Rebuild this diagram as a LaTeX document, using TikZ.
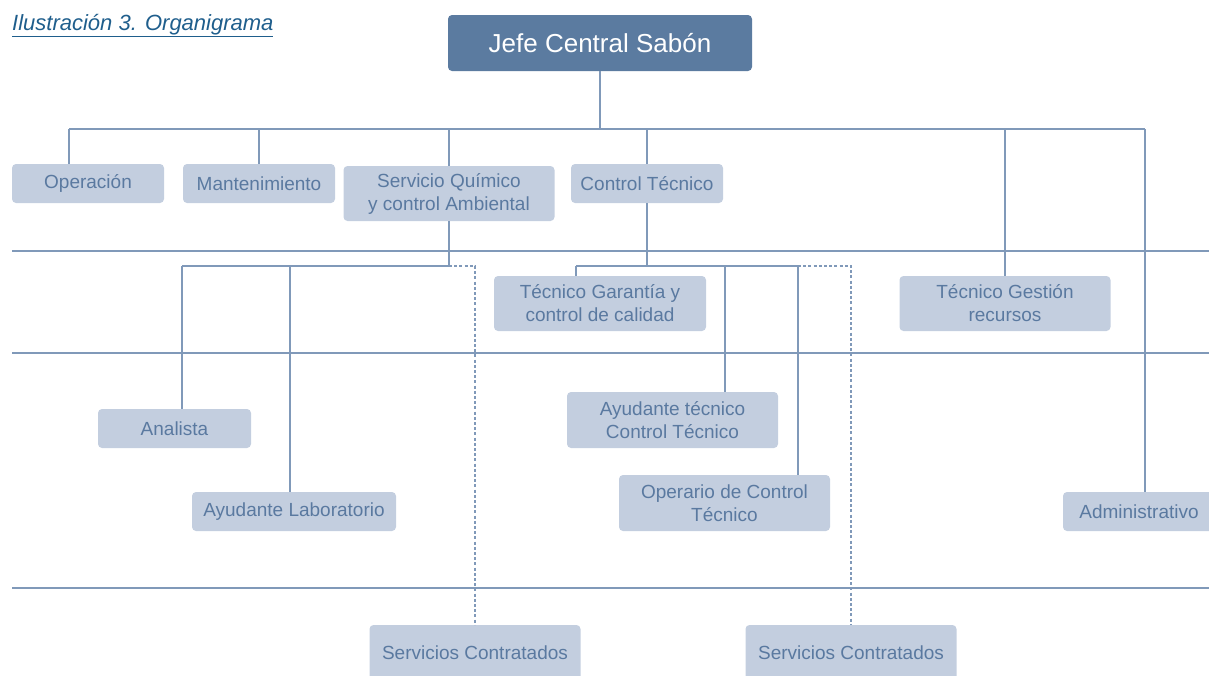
\documentclass[tikz,border=0pt]{standalone}
\usepackage{fontspec}
\setmainfont{Liberation Sans}
\definecolor{jefeblue}{HTML}{5B7BA0}
\definecolor{boxblue}{HTML}{C3CEDF}
\definecolor{txtblue}{HTML}{5A79A0}
\definecolor{lineblue}{HTML}{8099B9}
\definecolor{titleblue}{HTML}{1F5E8C}

\begin{document}
\begin{tikzpicture}[x=1pt,y=-1pt,
	puesto/.style={rectangle, rounded corners=4pt, fill=boxblue, text=txtblue, inner sep=0pt, align=center, font=\fontsize{19}{23}\selectfont},
	linea/.style={draw=lineblue, line width=1.2pt},
	externo/.style={draw=lineblue, line width=1.2pt, dash pattern=on 3pt off 2.2pt},
	nivel/.style={draw=lineblue, line width=1.4pt}]

	\useasboundingbox (0,0) rectangle (1209,675);

	\node 	(titulo)	at	(12,30) 	[anchor=base west, inner sep=0pt, text=titleblue, font=\fontsize{22}{24}\selectfont\itshape]{\underline{Ilustración 3. Organigrama}};

	\node 	(jefe)		at	(600,43) 	[rectangle, rounded corners=4pt, fill=jefeblue, text=white, minimum width=304, minimum height=56, font=\fontsize{26}{30}\selectfont]{Jefe Central Sabón};

	\node 	(op)		at	(88,183.5) 	[puesto, minimum width=152, minimum height=39]{Operación};
	\node 	(mant)		at	(259,183.5) 	[puesto, minimum width=152, minimum height=39]{Mantenimiento};
	\node 	(sq)		at	(449,193.5) 	[puesto, minimum width=211, minimum height=55]{Servicio Químico\\y control Ambiental};
	\node 	(ct)		at	(647,183.5) 	[puesto, minimum width=152, minimum height=39]{Control Técnico};

	\node 	(tgar)		at	(600,303.5) 	[puesto, minimum width=212, minimum height=55]{Técnico Garantía y\\control de calidad};
	\node 	(tges)		at	(1005,303.5) 	[puesto, minimum width=211, minimum height=55]{Técnico Gestión\\recursos};

	\node 	(ana)		at	(174.5,428.5) 	[puesto, minimum width=153, minimum height=39]{Analista};
	\node 	(ayt)		at	(672.5,420) 	[puesto, minimum width=211, minimum height=56]{Ayudante técnico\\Control Técnico};
	\node 	(aylab)		at	(294,511.5) 	[puesto, minimum width=204, minimum height=39]{Ayudante Laboratorio};
	\node 	(oper)		at	(724.5,503) 	[puesto, minimum width=211, minimum height=56]{Operario de Control\\Técnico};
	\node 	(adm)		at	(1139,511.5) 	[puesto, minimum width=152, minimum height=39]{Administrativo};

	\node 	(sc1)		at	(475,653) 	[puesto, minimum width=211, minimum height=56]{Servicios Contratados};
	\node 	(sc2)		at	(851,653) 	[puesto, minimum width=211, minimum height=56]{Servicios Contratados};

	\draw[nivel] 	(12,251) 	-- 	(1209,251);
	\draw[nivel] 	(12,353) 	-- 	(1209,353);
	\draw[nivel] 	(12,588) 	-- 	(1209,588);

	\coordinate (bus)	at	(600,129);
	\coordinate (bOp)	at	(69,129);
	\coordinate (bAdm)	at	(1145,129);
	\coordinate (bSq)	at	(449,266);
	\coordinate (bAna)	at	(182,266);
	\coordinate (bLab)	at	(290,266);
	\coordinate (bCt)	at	(647,266);
	\coordinate (bGar)	at	(576,266);
	\coordinate (bAyt)	at	(725,266);
	\coordinate (bOper)	at	(798,266);

	\draw[linea]	(jefe)	to	(bus);
	\draw[linea]	(bOp)	to	(bAdm);
	\draw[linea]	(bOp)	to	(bOp |- op.north);
	\draw[linea]	(mant |- bus)	to	(mant);
	\draw[linea]	(sq |- bus)	to	(sq);
	\draw[linea]	(ct |- bus)	to	(ct);
	\draw[linea]	(tges |- bus)	to	(tges);
	\draw[linea]	(bAdm)	to	(bAdm |- adm.north);

	\draw[linea]	(sq)	|-	(bAna);
	\draw[linea]	(bAna)	to	(bAna |- ana.north);
	\draw[linea]	(bLab)	to	(bLab |- aylab.north);
	\draw[externo]	(bSq)	-|	(sc1);

	\draw[linea]	(ct)	to	(bCt);
	\draw[linea]	(bGar)	to	(bOper);
	\draw[linea]	(bGar)	to	(bGar |- tgar.north);
	\draw[linea]	(bAyt)	to	(bAyt |- ayt.north);
	\draw[linea]	(bOper)	to	(bOper |- oper.north);
	\draw[externo]	(bOper)	-|	(sc2);

\end{tikzpicture}
\end{document}
